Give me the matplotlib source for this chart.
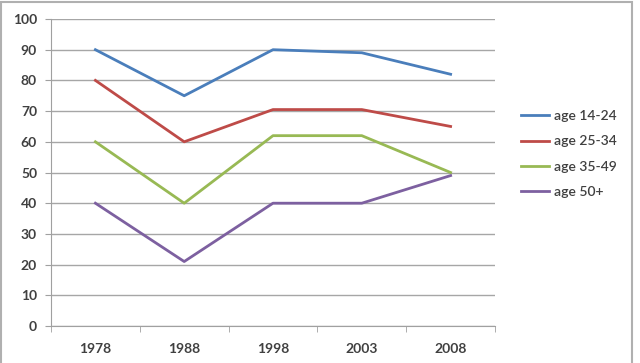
import matplotlib.pyplot as plt
from matplotlib.patches import Rectangle

years = ['1978', '1988', '1998', '2003', '2008']
age_14_24 = [90, 75, 90, 89, 82]
age_25_34 = [80, 60, 70.5, 70.5, 65]
age_35_49 = [60, 40, 62, 62, 50]
age_50_plus = [40, 21, 40, 40, 49]

series = [
	('age 14-24', age_14_24, '#4a7ebb'),
	('age 25-34', age_25_34, '#be4b48'),
	('age 35-49', age_35_49, '#98b954'),
	('age 50+', age_50_plus, '#7d60a0'),
]

plt.rcParams['font.family'] = ['Lato', 'DejaVu Sans']

fig = plt.figure(figsize=(6.4, 3.63), dpi=100)
ax = fig.add_axes([51 / 640, 1 - 326 / 363, 444 / 640, 307 / 363])

x = range(len(years))
for name, vals, color in series:
	ax.plot(x, vals, color=color, lw=2.0, label=name)

ax.set_xlim(-0.5, len(years) - 0.5)
ax.set_ylim(0, 100)
ax.set_yticks(range(0, 101, 10))
ax.set_xticks(list(x))
ax.set_xticklabels(years)
ax.set_xticks([i - 0.5 for i in range(len(years) + 1)], minor=True)
ax.tick_params(axis='x', which='major', length=0, pad=12)
ax.tick_params(axis='x', which='minor', length=4, color='#a0a0a0')
ax.tick_params(axis='y', length=4, color='#a0a0a0', pad=6)
ax.tick_params(labelsize=10, labelcolor='#404040')
for lab in ax.get_xticklabels() + ax.get_yticklabels():
	lab.set_fontweight('bold')

ax.grid(axis='y', color='#a6a6a6', lw=1)
ax.set_axisbelow(True)
for s in ['top', 'right']:
	ax.spines[s].set_visible(False)
ax.spines['left'].set_color('#a0a0a0')
ax.spines['bottom'].set_color('#a0a0a0')

leg = ax.legend(loc='center left', bbox_to_anchor=(1.03, 0.56), frameon=False,
	fontsize=10, handlelength=2.0, labelspacing=0.95, handletextpad=0.4)
for t in leg.get_texts():
	t.set_color('#404040')
	t.set_fontweight('semibold')

fig.patches.append(Rectangle((0.002, -0.05), 0.985, 1.045, transform=fig.transFigure,
	fill=False, edgecolor='#b0b0b0', lw=1.5))

fig.savefig('out.png', dpi=100)
